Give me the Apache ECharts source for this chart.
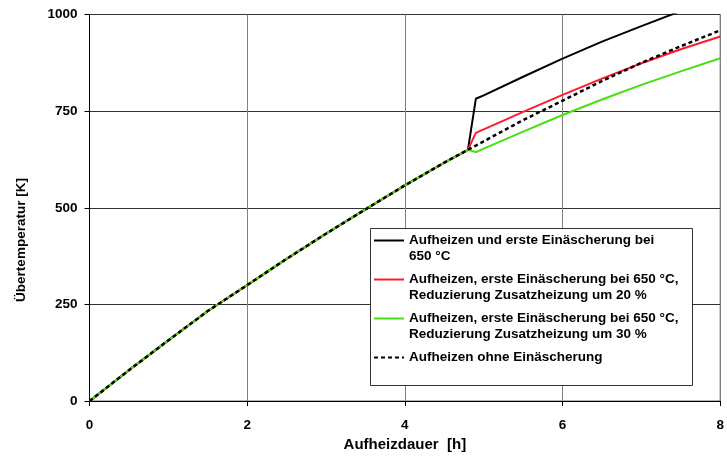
<!DOCTYPE html>
<html>
<head>
<meta charset="utf-8">
<script src="https://cdn.jsdelivr.net/npm/echarts@6/dist/echarts.min.js"></script>
<style>
  html, body { margin: 0; padding: 0; background: #fff; }
  #chart { width: 727px; height: 457px; }
</style>
</head>
<body>
<div id="chart"></div>
<script>
// Heating phase shared by all runs (time in h, over-temperature in K)
const timeCommon = [0, 0.5, 1, 1.5, 2, 2.5, 3, 3.5, 4, 4.5, 4.8];
const tempCommon = [0, 80, 157, 233, 300, 368, 433, 496, 558, 617, 650];

// Continuation after 4.8 h for each run
const timeAfter = [4.9, 5, 5.5, 6, 6.5, 7, 7.5, 8];
const tempAsh650 = [782, 791, 839, 886, 930, 970, 1009, 1045];
const tempAsh650Red20 = [694, 703, 748, 792, 834, 874, 910, 943];
const tempAsh650Red30 = [644, 653, 697, 740, 780, 818, 853, 887];
const tempNoAsh = [661, 672, 727, 777, 828, 875, 918, 959];

const xTicks = [0, 2, 4, 6, 8];
const yTicks = [0, 250, 500, 750, 1000];

const seriesNames = [
  'Aufheizen und erste Einäscherung bei\n650 °C',
  'Aufheizen, erste Einäscherung bei 650 °C,\nReduzierung Zusatzheizung um 20 %',
  'Aufheizen, erste Einäscherung bei 650 °C,\nReduzierung Zusatzheizung um 30 %',
  'Aufheizen ohne Einäscherung'
];

function buildPoints(tail) {
  const pts = timeCommon.map((t, i) => [t, tempCommon[i]]);
  timeAfter.forEach((t, i) => pts.push([t, tail[i]]));
  return pts;
}

const FONT = '"Liberation Sans", Arial, sans-serif';
const chart = echarts.init(document.getElementById('chart'), null, { renderer: 'canvas' });

const styles = [
  { color: '#000000', width: 2, type: 'solid' },
  { color: '#ff1a30', width: 2, type: 'solid' },
  { color: '#44e010', width: 2, type: 'solid' },
  { color: '#000000', width: 2.5, type: [4, 3] }
];
const tails = [tempAsh650, tempAsh650Red20, tempAsh650Red30, tempNoAsh];

chart.setOption({
  animation: false,
  backgroundColor: '#ffffff',
  grid: {
    left: 89.5, right: 5.5, top: 14.5, bottom: 54,
    show: true, borderColor: '#444', borderWidth: 1, backgroundColor: 'transparent'
  },
  xAxis: {
    type: 'value',
    min: xTicks[0], max: xTicks[xTicks.length - 1], interval: 2,
    name: 'Aufheizdauer  [h]',
    nameLocation: 'middle',
    nameGap: 32,
    nameTextStyle: { fontFamily: FONT, fontWeight: 'bold', fontSize: 15, color: '#000' },
    axisLine: { show: true, onZero: false, lineStyle: { color: '#000', width: 1 } },
    axisTick: { show: true, length: 5, lineStyle: { color: '#000' } },
    axisLabel: { fontFamily: FONT, fontWeight: 'bold', fontSize: 13.5, color: '#000', margin: 17 },
    splitLine: { show: true, lineStyle: { color: '#808080', width: 1 } }
  },
  yAxis: {
    type: 'value',
    min: yTicks[0], max: yTicks[yTicks.length - 1], interval: 250,
    axisLine: { show: true, onZero: false, lineStyle: { color: '#000', width: 1 } },
    axisTick: { show: true, length: 5, lineStyle: { color: '#000' } },
    axisLabel: {
      fontFamily: FONT, fontWeight: 'bold', fontSize: 13.5, color: '#000', margin: 12,
      formatter: (v) => String(v)
    },
    splitLine: { show: true, lineStyle: { color: '#333', width: 1 } }
  },
  legend: {
    orient: 'vertical',
    left: 373,
    top: 216.5,
    padding: 0,
    itemGap: -9,
    itemWidth: 30,
    itemHeight: 14,
    z: 10,
    itemStyle: { opacity: 0 },
    // keep each key line level with the first text line of its entry
    formatter: (name) => name.indexOf('\n') >= 0 ? '\n' + name : '\n' + name + '\n',
    textStyle: { fontFamily: FONT, fontWeight: 'bold', fontSize: 13.5, color: '#000', lineHeight: 16 },
    data: seriesNames
  },
  graphic: [
    {
      type: 'rect',
      z: 5,
      shape: { x: 370.5, y: 228.5, width: 322, height: 157 },
      style: { fill: '#fff', stroke: '#333', lineWidth: 1 }
    },
    {
      type: 'text',
      z: 5,
      x: 21, y: 240,
      rotation: Math.PI / 2,
      style: {
        text: 'Übertemperatur [K]',
        font: 'bold 13.5px ' + FONT,
        fill: '#000',
        align: 'center',
        verticalAlign: 'middle'
      }
    }
  ],
  series: seriesNames.map((name, i) => ({
    name: name,
    type: 'line',
    data: buildPoints(tails[i]),
    showSymbol: false,
    symbol: 'none',
    clip: true,
    z: 2 + i,
    lineStyle: { color: styles[i].color, width: styles[i].width, type: styles[i].type },
    itemStyle: { color: styles[i].color }
  }))
});
</script>
</body>
</html>
